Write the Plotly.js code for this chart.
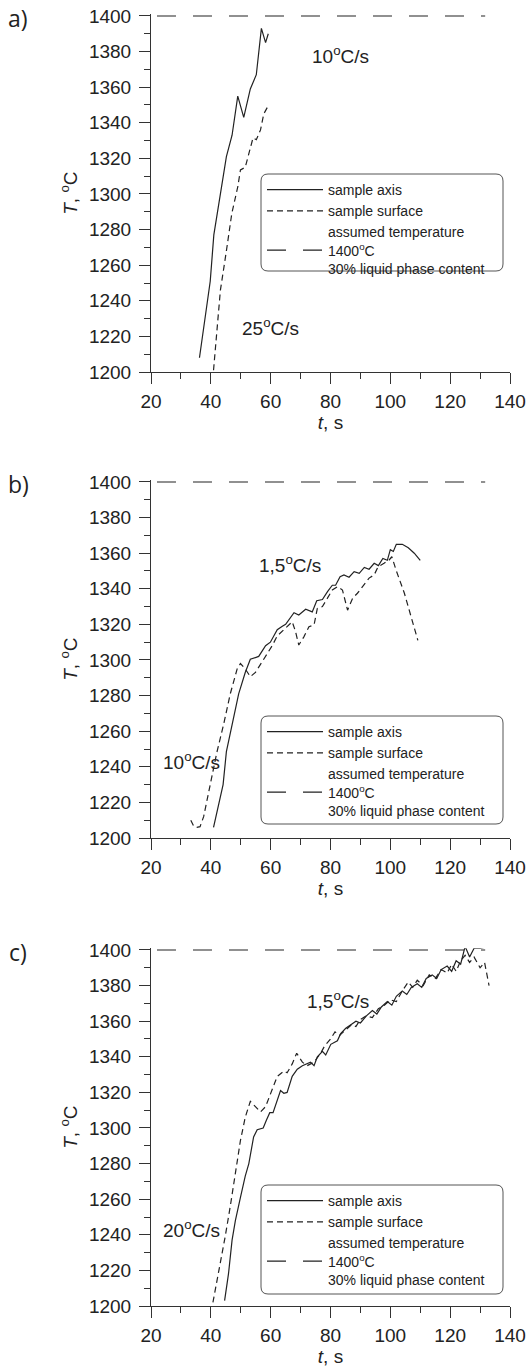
<!DOCTYPE html>
<html><head><meta charset="utf-8">
<script src="https://cdn.plot.ly/plotly-3.0.1.min.js"></script>
<style>html,body{margin:0;padding:0;background:#fff}</style>
</head><body>
<div id="chart" style="width:526px;height:1367px"></div>
<script>
// ---------- data (t in s, T in degC) ----------
// panel a
const a_axis_t = [36.2,39.8,41,43,45.2,47.1,49,51,53.2,55.2,56.9,58.3,59.2];
const a_axis_T = [1208,1251,1277,1298,1321,1333,1355,1343,1359,1367,1393,1385,1390];
const a_surf_t = [40.9,43.2,45.2,47,49,49.9,51.5,52.7,54.1,55.2,56.6,57.7,59];
const a_surf_T = [1201,1246,1268,1289,1304,1313.5,1315,1323,1331.5,1330.5,1336,1345,1349];
// panel b
const b_axis_t = [40.9,44.1,45.2,47.1,49.3,51.5,53.2,56,57.1,58.3,59.9,62.2,63.9,65,67.8,69.4,71.7,73.9,75.4,77.3,79,80.6,81.7,83.2,84.5,86.2,87.9,89.6,91.3,92.9,94.6,96,97.5,99,100,101,102,104,106,108,110];
const b_axis_T = [1206,1230,1248.5,1264,1281,1293,1300.4,1302,1305,1308,1310,1317,1319,1320,1326.6,1325.3,1328.5,1327,1333.3,1334,1338.4,1342,1342,1346.8,1347.8,1346.5,1349.6,1348.7,1352,1351,1354.3,1353,1357,1356,1362,1361,1365,1365,1363,1360,1356];
const b_surf_t = [33.3,34.3,35.3,36.4,37.6,39.8,42,44.3,46.5,48.8,49.9,51.5,53.2,54.9,57.1,58.3,60.5,62.2,64.4,67.2,68.3,69.4,71.1,72.8,74.5,75.6,77.3,79,80.6,82.3,84,85.7,87.4,89,91,92.9,94.6,95.9,97.9,99.6,100.5,101.9,104.7,106.9,109.2];
const b_surf_T = [1210,1206.5,1206,1206.4,1212,1231,1248,1264,1281,1295,1298,1295,1290.6,1293,1299,1302,1308,1313.5,1317,1321.5,1316,1308.4,1313,1318.7,1319.7,1329,1330,1334.7,1339.3,1341.2,1339.3,1328,1334.7,1337.5,1342,1346,1347.8,1352.4,1354.3,1356.2,1358,1350.6,1337.5,1324.3,1311];
// panel c
const c_axis_t = [44.6,45.9,47.1,48.2,49.9,51.5,52.7,54.3,55.5,57.5,58.6,59.7,60.8,62.2,63.3,64.4,65.5,67.2,68.9,70.6,72.2,73.3,74.5,75.6,77.3,78.4,80.1,82.3,83.4,85.1,86.8,88.5,90,92,94,95.5,97,99,100.5,102,104,105.5,107,109,110.5,112,114,115.5,117,119,120.5,122,123.5,125,126.5,128,130,133];
const c_axis_T = [1203,1218,1237,1248,1261,1273,1280,1295,1299,1300,1304.5,1308.6,1308.6,1315,1321,1319.5,1320,1329,1333,1335,1336,1337,1335,1340,1343,1341,1347,1349,1353,1356,1358,1360,1359,1363,1366,1364,1368,1371,1369,1374,1377,1375,1379,1381,1379,1384,1386,1384,1389,1391,1388,1394,1392,1402,1396,1401,1401,1402];
const c_surf_t = [40.7,43.2,44.8,46.5,48.2,49.9,51.5,53.2,54.9,56.6,58.3,60.5,62.2,64.4,65.5,67.2,68.7,70.6,72.2,74.5,76.7,78,80,81.5,83,85,87,88.5,90,92,94,96,98,100,102,104,106,107.5,109,111,113,115,117,119,120.5,122,123.5,125,126.5,128,130,131.5,133];
const c_surf_T = [1202,1224,1239,1256,1276,1293,1306,1315,1312,1309,1312,1321,1329,1332,1331,1336,1342,1337,1335,1337,1342,1346,1350,1354,1352,1355,1358,1357,1361,1363,1362,1367,1369,1372,1371,1377,1382,1379,1383,1380,1386,1384,1389,1387,1392,1388,1394,1397,1393,1396,1390,1393,1380];
// assumed temperature line (1400 degC)
const lim_t = [22,131.7];
const lim_T = [1400,1400];

const seriesNames = ['sample axis','sample surface','assumed temperature<br>1400<sup>o</sup>C<br>30% liquid phase content'];
const panelLabels = ['a)','b)','c)'];
const rateLabels = [
  [{t:83.3,T:1378,txt:'10<sup>o</sup>C/s'},{t:59.8,T:1225.5,txt:'25<sup>o</sup>C/s'}],
  [{t:66.6,T:1354,txt:'1,5<sup>o</sup>C/s'},{t:33.5,T:1243,txt:'10<sup>o</sup>C/s'}],
  [{t:82.5,T:1372,txt:'1,5<sup>o</sup>C/s'},{t:33.7,T:1243,txt:'20<sup>o</sup>C/s'}]
];

// ---------- geometry ----------
const W = 526, H = 1367;
const M = {l:151, r:16, t:14, b:61};
const plotH = H - M.t - M.b, plotW = W - M.l - M.r;
const yP = py => (H - M.b - py) / plotH;
const xP = px => (px - M.l) / plotW;
const panelPx = [[14.2,372],[480.2,838],[948.2,1306]];
const legendBox = [[174,271],[716,824],[1185,1294]];
const FONT = 'Liberation Sans, Arial, sans-serif';
const INK = '#222';

const panels = [
  {ax:[a_axis_t,a_axis_T], su:[a_surf_t,a_surf_T]},
  {ax:[b_axis_t,b_axis_T], su:[b_surf_t,b_surf_T]},
  {ax:[c_axis_t,c_axis_T], su:[c_surf_t,c_surf_T]}
];

const data = [];
const layout = {
  width: W, height: H, margin: M, showlegend: true,
  paper_bgcolor:'#fff', plot_bgcolor:'#fff',
  font:{family:FONT, size:19, color:INK},
  annotations: [], shapes: []
};

panels.forEach((p, i) => {
  const sfx = i === 0 ? '' : String(i + 1);
  const xa = 'x' + sfx, ya = 'y' + sfx;
  const leg = 'legend' + sfx;
  data.push({x:p.ax[0], y:p.ax[1], xaxis:xa, yaxis:ya, mode:'lines', name:seriesNames[0], legend:leg,
             line:{color:INK, width:1.2}});
  data.push({x:p.su[0], y:p.su[1], xaxis:xa, yaxis:ya, mode:'lines', name:seriesNames[1], legend:leg,
             line:{color:INK, width:1.2, dash:'6px,4px'}});
  data.push({x:lim_t, y:lim_T, xaxis:xa, yaxis:ya, mode:'lines', name:seriesNames[2], legend:leg,
             line:{color:INK, width:1.2, dash:'19px,17px'}});

  const [top, bot] = panelPx[i];
  layout['xaxis' + sfx] = {
    domain:[0,1], anchor:ya, range:[20,140], tick0:20, dtick:20,
    showline:true, linecolor:'#333', linewidth:1, ticks:'outside', ticklen:11, tickwidth:1, tickcolor:'#333',
    minor:{ticks:'outside', ticklen:6, dtick:10, tick0:20, tickcolor:'#333', tickwidth:1},
    showgrid:false, zeroline:false, ticklabelstandoff:1,
    tickfont:{family:FONT, size:19, color:INK},
    title:{text:'<i>t</i>, s', font:{family:FONT, size:19, color:INK}, standoff:3}
  };
  layout['yaxis' + sfx] = {
    domain:[yP(bot), yP(top)], anchor:xa, range:[1200,1401], tick0:1200, dtick:20,
    showline:true, linecolor:'#333', linewidth:1, ticks:'outside', ticklen:11, tickwidth:1, tickcolor:'#333',
    minor:{ticks:'outside', ticklen:6, dtick:10, tick0:1200, tickcolor:'#333', tickwidth:1},
    showgrid:false, zeroline:false, ticklabelstandoff:4,
    tickfont:{family:FONT, size:19, color:INK},
    title:{text:'<i>T</i>, <sup>o</sup>C', font:{family:FONT, size:19, color:INK}, standoff:6}
  };

  // legend
  const [lt, lb] = legendBox[i];
  layout[leg] = {
    x: xP(262), xanchor:'left', y: yP(lt), yanchor:'top',
    bgcolor:'rgba(0,0,0,0)', borderwidth:0, itemwidth:56, valign:'middle',
    font:{family:FONT, size:14, color:INK}, tracegroupgap:0,
    itemclick:false, itemdoubleclick:false
  };
  // rounded legend frame
  const x0 = xP(261), x1 = xP(503), y0 = yP(lt), y1 = yP(lb);
  const rx = 7 / plotW, ry = 7 / plotH;
  layout.shapes.push({
    type:'path', xref:'paper', yref:'paper', line:{color:'#555', width:1},
    path:`M${x0+rx},${y0} L${x1-rx},${y0} Q${x1},${y0} ${x1},${y0-ry} L${x1},${y1+ry} Q${x1},${y1} ${x1-rx},${y1} L${x0+rx},${y1} Q${x0},${y1} ${x0},${y1+ry} L${x0},${y0-ry} Q${x0},${y0} ${x0+rx},${y0} Z`
  });

  // panel label
  layout.annotations.push({
    xref:'paper', yref:'paper', x: xP(18), y: yP(top + 4), text: panelLabels[i],
    showarrow:false, xanchor:'center', yanchor:'middle',
    font:{family:'Open Sans, Noto Sans, sans-serif', size:23, color:INK}
  });
  // rate labels
  rateLabels[i].forEach(r => layout.annotations.push({
    xref:xa, yref:ya, x:r.t, y:r.T, text:r.txt, showarrow:false,
    xanchor:'center', yanchor:'middle', font:{family:FONT, size:19, color:INK}
  }));
});

Plotly.newPlot('chart', data, layout, {staticPlot:true, displayModeBar:false});
</script>
</body></html>
